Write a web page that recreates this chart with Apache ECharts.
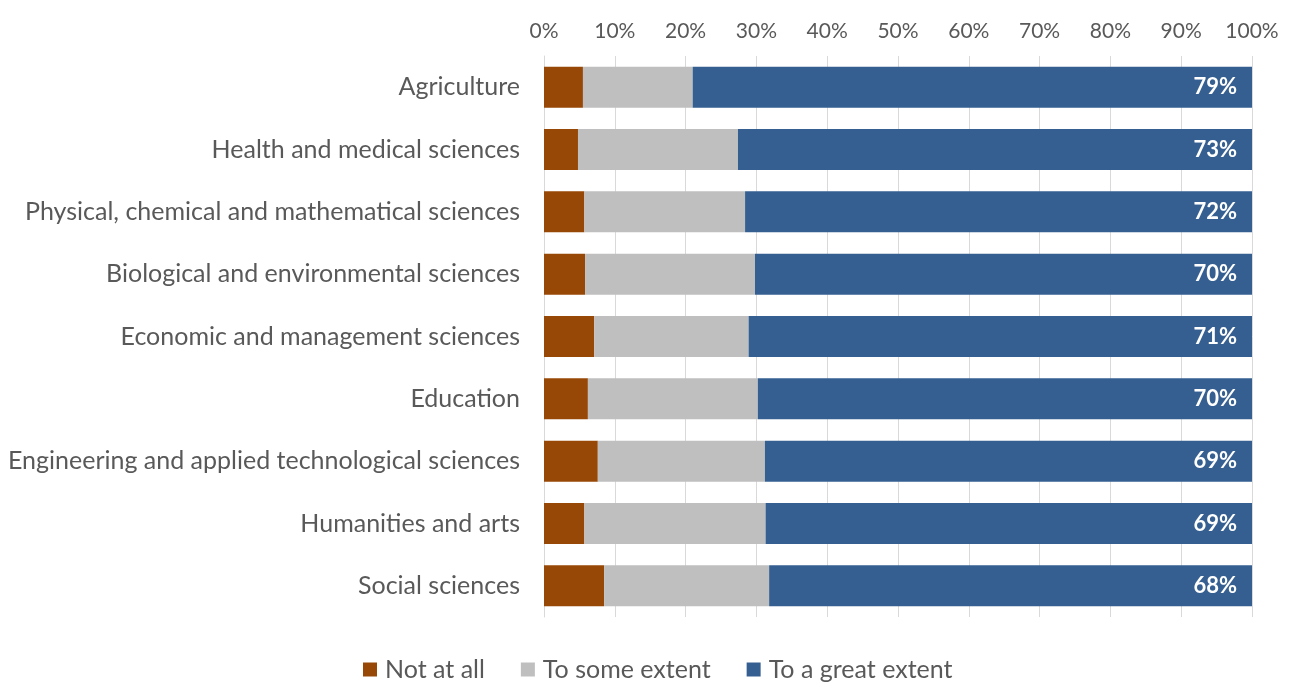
<!DOCTYPE html>
<html>
<head>
<meta charset="utf-8">
<script src="https://cdn.jsdelivr.net/npm/echarts@6/dist/echarts.min.js"></script>
<style>html,body{margin:0;padding:0;background:#fff}#c{width:1295px;height:686px}</style>
</head>
<body>
<div id="c"></div>
<script>
const categories = [
  "Agriculture",
  "Health and medical sciences",
  "Physical, chemical and mathematical sciences",
  "Biological and environmental sciences",
  "Economic and management sciences",
  "Education",
  "Engineering and applied technological sciences",
  "Humanities and arts",
  "Social sciences"
];
const notAtAll     = [5.5, 4.8, 5.7, 5.8, 7.1, 6.2, 7.6, 5.7, 8.5];
const toSomeExtent = [15.5, 22.6, 22.7, 24.0, 21.8, 24.0, 23.6, 25.6, 23.3];
const toGreatExtent= [79.0, 72.6, 71.6, 70.2, 71.1, 69.8, 68.8, 68.7, 68.2];
const tickValues = [0,10,20,30,40,50,60,70,80,90,100];

const FONT = "Lato";
const chart = echarts.init(document.getElementById('c'), null, {renderer:'canvas'});
chart.setOption({
  animation: false,
  textStyle: {fontFamily: FONT},
  grid: {left: 544, right: 43, top: 56, bottom: 69, containLabel: false},
  legend: {
    top: 652, left: 358,
    itemWidth: 14, itemHeight: 14, itemGap: 36, icon: 'rect',
    textStyle: {fontFamily: FONT, fontSize: 25, color: '#595959', padding: [0,0,0,3]},
    data: ['Not at all', 'To some extent', 'To a great extent']
  },
  xAxis: {
    type: 'value', position: 'top', min: 0, max: 100, interval: 10,
    axisLine: {show: false}, axisTick: {show: false},
    axisLabel: {formatter: '{value}%', fontSize: 21, color: '#595959', margin: 14, fontFamily: FONT},
    splitLine: {show: true, lineStyle: {color: '#D9D9D9', width: 1}}
  },
  yAxis: {
    type: 'category', inverse: true, data: categories,
    axisLine: {show: true, lineStyle: {color: '#D9D9D9'}},
    axisTick: {show: false},
    axisLabel: {fontSize: 25, color: '#595959', margin: 24, fontFamily: FONT}
  },
  series: [
    {name: 'Not at all', type: 'bar', stack: 't', data: notAtAll, barWidth: 41,
     itemStyle: {color: '#974806'}},
    {name: 'To some extent', type: 'bar', stack: 't', data: toSomeExtent, barWidth: 41,
     itemStyle: {color: '#BFBFBF'}},
    {name: 'To a great extent', type: 'bar', stack: 't', data: toGreatExtent, barWidth: 41,
     itemStyle: {color: '#365F91'},
     label: {show: true, position: 'insideRight', distance: 15, color: '#fff', fontWeight: 'bold',
       fontSize: 22, fontFamily: FONT, formatter: p => Math.round(p.value) + '%'}}
  ]
});
</script>
</body>
</html>
